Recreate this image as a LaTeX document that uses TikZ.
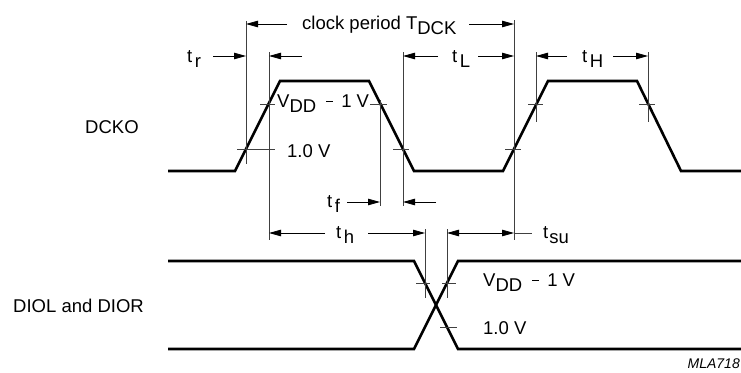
\documentclass[tikz,border=0pt]{standalone}
\usepackage{fontspec}
\setmainfont{Liberation Sans}
\usetikzlibrary{arrows.meta}
\newcommand{\lowsub}[1]{\raisebox{-5pt}{#1}}
\newcommand{\vminus}{\hspace{10pt}\rule[5.5pt]{7pt}{1pt}\hspace{8pt}}

\begin{document}
\begin{tikzpicture}[x=1pt, y=-1pt,
                    wave/.style={line width=2.6pt, line join=miter},
                    ext/.style={line width=0.7pt, black!75},
                    dim/.style={line width=0.8pt, -{Triangle[length=12pt,width=6.5pt]}},
                    lbl/.style={font=\fontsize{18.5}{22}\selectfont, inner sep=0pt, anchor=base west}]
    \useasboundingbox (0,0) rectangle (741,372);

    % waveforms
    \draw[wave] (168,171) -- (235,171) -- (280,81) -- (369,81) -- (414,171)
                -- (503,171) -- (548,81) -- (637,81) -- (681,171) -- (741,171);
    \draw[wave] (168,261) -- (414,261) -- (458,349) -- (741,349);
    \draw[wave] (168,349) -- (414,349) -- (458,261) -- (741,261);

    % extension lines and level ticks
    \foreach \x/\ya/\yb in {246/21/164, 269/52/240, 380/100/206, 403/52/206, 514/20/240,
                            536/52/122, 648/52/122, 425/229/298, 447/229/298}
        \draw[ext] (\x,\ya) -- (\x,\yb);
    \foreach \xa/\xb/\y in {237/275/149, 260/275/104, 370/387/104, 393/409/149, 505/521/149,
                            528/543/104, 639/655/104, 416/430/283, 442/456/283, 440/457/327}
        \draw[ext] (\xa,\y) -- (\xb,\y);

    % dimension arrows
    \foreach \xa/\xb/\y in {287/246/24, 469/514/24, 213/246/56, 302/269/56, 438/403/56,
                            478/514/56, 567/536/56, 613/648/56, 347/380/202, 436/403/202,
                            325/269/233, 368/425/233}
        \draw[dim] (\xa,\y) -- (\xb,\y);
    \draw[dim, {Triangle[length=12pt,width=6.5pt]}-{Triangle[length=12pt,width=6.5pt]}] (447,233) -- (514,233);
    \draw[ext] (514,233) -- (532,233);

    % labels
    \node[lbl] (period) at (302,29) {clock period T\lowsub{DCK}};
    \node[lbl] (tr) at (187,62) {t\hspace{2.5pt}\lowsub{r}};
    \node[lbl] (tl) at (452,62) {t\hspace{2.5pt}\lowsub{L}};
    \node[lbl] (th) at (582,62) {t\hspace{2.5pt}\lowsub{H}};
    \node[lbl] (tf) at (327,207) {t\hspace{2.5pt}\lowsub{f}};
    \node[lbl] (thold) at (336,238) {t\hspace{2.5pt}\lowsub{h}};
    \node[lbl] (tsu) at (543,238) {t\hspace{1pt}\lowsub{su}};
    \node[lbl] (vhi1) at (277,107) {V\lowsub{DD}\vminus 1 V};
    \node[lbl] (vlo1) at (287,157) {1.0 V};
    \node[lbl] (vhi2) at (483,286) {V\lowsub{DD}\vminus 1 V};
    \node[lbl] (vlo2) at (483,334) {1.0 V};
    \node[lbl] (dcko) at (85,133) {DCKO};
    \node[lbl] (diol) at (13,312) {DIOL and DIOR};
    \node[lbl, font=\fontsize{14}{16}\selectfont\itshape, anchor=base east] (code) at (740,368) {MLA718};
\end{tikzpicture}
\end{document}
